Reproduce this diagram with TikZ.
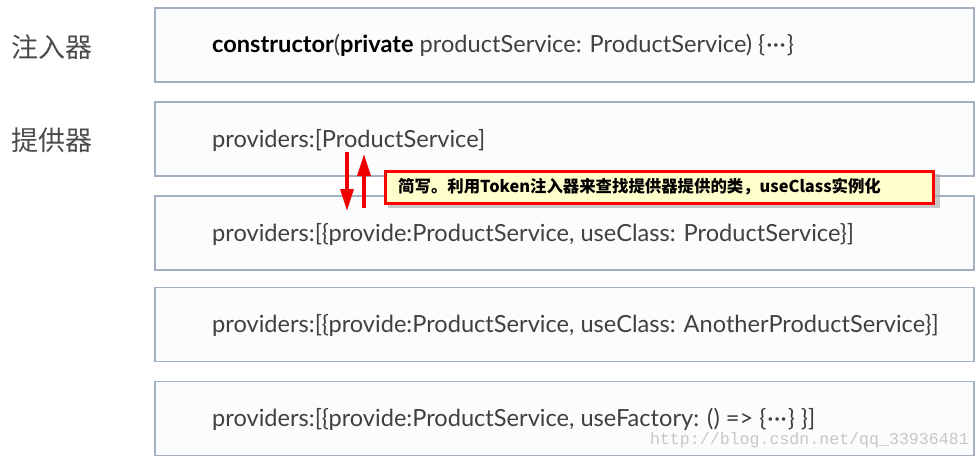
\documentclass[tikz,border=0pt]{standalone}
\usepackage{fontspec}
\usetikzlibrary{arrows.meta}
\newfontfamily\cjk{Noto Sans CJK SC}
\newfontfamily\boxfont{Lato}
\newfontfamily\wmfont{Liberation Mono}
\definecolor{boxedge}{HTML}{A3B0C2}
\definecolor{boxfill}{HTML}{FAFCFE}
\definecolor{txt}{HTML}{404040}
\definecolor{lbl}{HTML}{4A4A4A}
\definecolor{callfill}{HTML}{FFFFCC}
\definecolor{arrred}{HTML}{F00000}
\newcommand\mydots{\{\kern1pt·\kern0.5pt·\kern0.5pt·\kern1pt\}}
\tikzset{
  panel/.style={draw=boxedge, fill=boxfill, line width=1.3pt, minimum width=819pt, minimum height=74pt, inner sep=0pt},
  paneltext/.style={anchor=west, inner sep=0pt, text=txt, font=\boxfont\fontsize{23.6}{27}\selectfont},
  sidelabel/.style={anchor=west, inner sep=0pt, text=lbl, font=\cjk\fontsize{27}{30}\selectfont},
  callout/.style={draw=red, fill=callfill, line width=3pt, minimum width=548pt, minimum height=32pt, inner sep=0pt},
  redarrow/.style={draw=arrred, line width=3.2pt, -{Triangle[length=22pt,width=13pt]}},
}
\begin{document}
\begin{tikzpicture}[x=1pt,y=-1pt]
\useasboundingbox (0,0) rectangle (980,461);
\fill[white] (0,0) rectangle (980,461);
% panels
\node[panel] (b1) at (564.5,45) {};
\node[panel] (b2) at (564.5,139) {};
\node[panel] (b3) at (564.5,233) {};
\node[panel] (b4) at (564.5,324.5) {};
\node[panel] (b5) at (564.5,418.5) {};
% side labels
\node[sidelabel] (l1) at (11,47) {注入器};
\node[sidelabel] (l2) at (11,140) {提供器};
% panel texts
\node[paneltext] (t1) at (212,45) {\textcolor{black}{\bfseries constructor}(\textcolor{black}{\bfseries private} productService: ProductService) \mydots};
\node[paneltext] (t2) at (212,140) {providers:[ProductService]};
\node[paneltext] (t3) at (212,234) {providers:[\{provide:ProductService, useClass: ProductService\}]};
\node[paneltext] (t4) at (212,325) {providers:[\{provide:ProductService, useClass: AnotherProductService\}]};
\node[paneltext] (t5) at (212,419) {providers:[\{provide:ProductService, useFactory: () => \mydots{} \}]};
% arrows
\coordinate (d1) at (347,152);
\coordinate (d2) at (347,211);
\coordinate (u1) at (364,208);
\coordinate (u2) at (364,154);
\draw[redarrow] (d1) -- (d2);
\draw[redarrow] (u1) -- (u2);
% callout
\fill[black!35, opacity=0.6] (388,174) rectangle (940,208);
\node[callout] (c) at (659,187) {};
\node[anchor=west, inner sep=0pt, font=\cjk\bfseries\fontsize{16.4}{18}\selectfont] (ct) at (398,187) {简写。利用Token注入器来查找提供器提供的类，useClass实例化};
% watermark
\node[anchor=east, inner sep=0pt, text=black!22, font=\wmfont\fontsize{16.6}{19}\selectfont] (wm) at (969,440) {http://blog.csdn.net/qq\_33936481};
\end{tikzpicture}
\end{document}
